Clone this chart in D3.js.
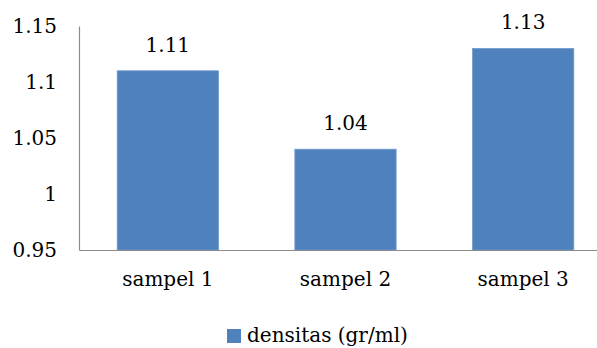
<!DOCTYPE html>
<html>
<head>
<meta charset="utf-8">
<script src="https://cdn.jsdelivr.net/npm/d3@7"></script>
<style>
	body { margin: 0; background: #fff; }
	text { font-family: "DejaVu Serif", serif; fill: #000; }
</style>
</head>
<body>
<div id="chart-area"></div>
<script>
// DATA
var categories = ["sampel 1", "sampel 2", "sampel 3"];
var values = [1.11, 1.04, 1.13];
var valueLabels = ["1.11", "1.04", "1.13"];
var yTicks = [0.95, 1, 1.05, 1.1, 1.15];
var seriesName = "densitas (gr/ml)";

var W = 597, H = 348;
var margin = { left: 79, top: 26, bottom: 98 };
var plotBottom = H - margin.bottom;

var svg = d3.select("#chart-area")
	.append("svg")
	.attr("width", W)
	.attr("height", H);

// SCALES
var x = d3.scaleBand()
	.domain(categories)
	.range([margin.left, 612])
	.paddingInner(0.43)
	.paddingOuter(0.215);

var y = d3.scaleLinear()
	.domain([0.95, 1.15])
	.range([plotBottom, margin.top]);

// Y AXIS
var yAxis = svg.append("g")
	.attr("transform", "translate(" + margin.left + ",0)")
	.call(d3.axisLeft(y).tickValues(yTicks).tickSize(0).tickPadding(22)
		.tickFormat(function (d) { return +d.toFixed(2); }));
yAxis.select(".domain").attr("stroke", "#8c8c8c").attr("stroke-width", 1.2);
yAxis.selectAll("text")
	.attr("font-family", "DejaVu Serif")
	.attr("font-size", "20px")
	.attr("dy", "0.32em");

// BARS
svg.selectAll("rect.bar")
	.data(values)
	.enter()
	.append("rect")
	.attr("class", "bar")
	.attr("x", function (d, i) { return x(categories[i]); })
	.attr("width", x.bandwidth())
	.attr("y", function (d) { return y(d); })
	.attr("height", function (d) { return plotBottom - y(d); })
	.attr("fill", "#4f81bd")
	.attr("stroke", "#6f9bd0")
	.attr("stroke-width", 0.8);

// X AXIS
var xAxis = svg.append("g")
	.attr("transform", "translate(0," + plotBottom + ")")
	.call(d3.axisBottom(x).tickSize(0).tickPadding(22));
xAxis.select(".domain").attr("stroke", "#8c8c8c").attr("stroke-width", 1.2);
xAxis.selectAll("text")
	.attr("font-family", "DejaVu Serif")
	.attr("font-size", "20px");

// VALUE LABELS
svg.selectAll("text.val")
	.data(values)
	.enter()
	.append("text")
	.attr("class", "val")
	.attr("x", function (d, i) { return x(categories[i]) + x.bandwidth() / 2; })
	.attr("y", function (d) { return y(d) - 19; })
	.attr("text-anchor", "middle")
	.attr("font-size", "20px")
	.text(function (d, i) { return valueLabels[i]; });

// LEGEND
var legend = svg.append("g").attr("transform", "translate(227,329)");
legend.append("rect")
	.attr("width", 14)
	.attr("height", 14)
	.attr("fill", "#4f81bd");
legend.append("text")
	.attr("x", 20)
	.attr("y", 13)
	.attr("font-size", "20px")
	.text(seriesName);
</script>
</body>
</html>
